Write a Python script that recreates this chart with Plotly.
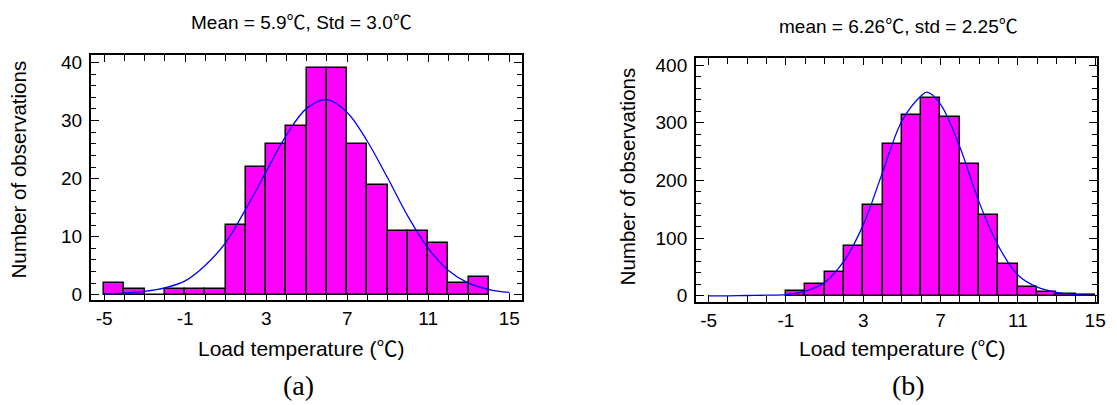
import plotly.graph_objects as go

# ---- data ----
bins_a = [-4.5, -3.5, -2.5, -1.5, -0.5, 0.5, 1.5, 2.5, 3.5, 4.5, 5.5, 6.5, 7.5, 8.5, 9.5, 10.5, 11.5, 12.5, 13.5]
counts_a = [2, 1, 0, 1, 1, 1, 12, 22, 26, 29, 39, 39, 26, 19, 11, 11, 9, 2, 3]
curve_x_a = [-5, -4, -3, -2, -1, 0, 1, 2, 3, 4, 5, 6, 7, 8, 9, 10, 11, 12, 13, 14, 15]
curve_y_a = [0.15, 0.3, 0.6, 1.2, 2.4, 5.1, 9.0, 14.8, 21.2, 27.5, 32.1, 33.6, 31.4, 26.4, 20.1, 13.5, 8.0, 4.2, 2.0, 0.9, 0.4]

bins_b = [-0.5, 0.5, 1.5, 2.5, 3.5, 4.5, 5.5, 6.5, 7.5, 8.5, 9.5, 10.5, 11.5, 12.5, 13.5, 14.5]
counts_b = [9, 20, 41, 86, 158, 263, 314, 344, 311, 228, 140, 56, 16, 6, 3, 2]
curve_x_b = [-5, -4, -3, -2, -1, 0, 1, 2, 3, 4, 5, 6, 6.3, 7, 8, 9, 10, 11, 12, 13, 14, 15]
curve_y_b = [0, 0, 0.5, 1, 2, 8, 23, 60, 123, 214, 303, 347, 353, 332, 258, 162, 86, 36, 15, 6, 2, 1]

title_a = "Mean = 5.9℃, Std = 3.0℃"
title_b = "mean = 6.26℃, std = 2.25℃"
xlabel = "Load temperature (℃)"
ylabel = "Number of observations"
xticks = [-5, -1, 3, 7, 11, 15]
xtick_text = ["-5", "-1", "3", "7", "11", "15"]

W, H = 1117, 405
FONT = "Liberation Sans, Arial, Noto Sans CJK SC, sans-serif"

fig = go.Figure()

bar_style = dict(marker=dict(color="#FF00FF", line=dict(color="#000000", width=1.5)),
                 width=1.0, showlegend=False, hoverinfo="skip")
fig.add_trace(go.Bar(x=bins_a, y=counts_a, xaxis="x", yaxis="y", **bar_style))
fig.add_trace(go.Scatter(x=curve_x_a, y=curve_y_a, xaxis="x", yaxis="y", mode="lines",
                         line=dict(color="#0000FF", width=1.3, shape="spline"), showlegend=False))
fig.add_trace(go.Bar(x=bins_b, y=counts_b, xaxis="x2", yaxis="y2", **bar_style))
fig.add_trace(go.Scatter(x=curve_x_b, y=curve_y_b, xaxis="x2", yaxis="y2", mode="lines",
                         line=dict(color="#0000FF", width=1.3, shape="spline"), showlegend=False))

def px_x(p):
    return p / W

def px_y(p):
    return 1 - p / H

common_x = dict(showgrid=False, zeroline=False, showline=True, linecolor="black", linewidth=2,
                mirror="ticks", ticks="inside", ticklen=7, tickwidth=1.3, tickcolor="black",
                tickvals=xticks, ticktext=xtick_text, tickfont=dict(family=FONT, size=19, color="black"),
                minor=dict(dtick=1, tick0=-5, ticks="inside", ticklen=6, tickwidth=1.3, tickcolor="black"))
common_y = dict(showgrid=False, zeroline=False, showline=True, linecolor="black", linewidth=2,
                mirror="ticks", ticks="inside", ticklen=8, tickwidth=1.3, tickcolor="black",
                tickfont=dict(family=FONT, size=19, color="black"), ticklabelstandoff=3)

fig.update_layout(
    width=W, height=H, margin=dict(l=0, r=0, t=0, b=0),
    paper_bgcolor="white", plot_bgcolor="white", bargap=0,
    xaxis=dict(domain=[px_x(91.7), px_x(526)], range=[-5.65, 15.62], anchor="y", **common_x),
    yaxis=dict(domain=[px_y(303), px_y(53)], range=[-0.9, 41.3], anchor="x", dtick=10,
               minor=dict(dtick=2, ticks="inside", ticklen=5, tickwidth=1.3, tickcolor="black"), **common_y),
    xaxis2=dict(domain=[px_x(701.7), px_x(1106)], range=[-5.65, 15.1], anchor="y2", **common_x),
    yaxis2=dict(domain=[px_y(305), px_y(56)], range=[-10.7, 412.5], anchor="x2", dtick=100,
                minor=dict(dtick=20, ticks="inside", ticklen=5, tickwidth=1.3, tickcolor="black"), **common_y),
)

def ann(text, x, y, size, family=FONT, angle=0):
    fig.add_annotation(text=text, x=px_x(x), y=px_y(y), xref="paper", yref="paper",
                       showarrow=False, xanchor="center", yanchor="middle", textangle=angle,
                       font=dict(family=family, size=size, color="black"))

ann(title_a, 304, 20, 19)
ann(title_b, 906, 24, 19)
ann(xlabel, 304, 352, 21)
ann(xlabel, 910, 352, 21)
ann(ylabel, 19, 170, 20.5, angle=-90)
ann(ylabel, 633, 177, 20.5, angle=-90)
ann("(a)", 301, 390, 28, family="Liberation Serif, Times New Roman, serif")
ann("(b)", 916, 390, 28, family="Liberation Serif, Times New Roman, serif")

fig.write_html("out.html")
